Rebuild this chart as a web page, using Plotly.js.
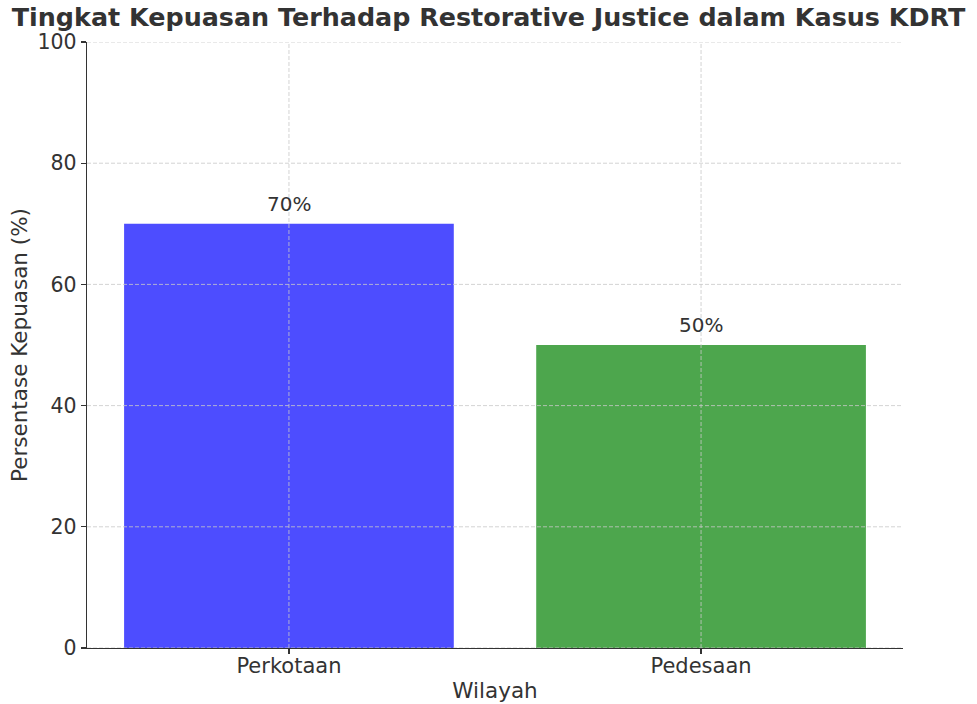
<!DOCTYPE html>
<html>
<head>
<meta charset="utf-8">
<script src="https://cdn.plot.ly/plotly-3.0.1.min.js"></script>
<style>html,body{margin:0;padding:0;background:#fff;}#chart{width:977px;height:704px;}</style>
</head>
<body>
<div id="chart"></div>
<script>
const categories = ["Perkotaan", "Pedesaan"];
const satisfaction = [70, 50];
const labels = ["70%", "50%"];
const barColors = ["#4d4dff", "#4da64d"];
const yTicks = [0, 20, 40, 60, 80, 100];

const gridColor = "rgba(200,200,200,0.8)";
const shapes = [];
yTicks.forEach(v => shapes.push({type:"line", xref:"paper", yref:"y", x0:0, x1:1, y0:v, y1:v,
  line:{color:gridColor, width:1, dash:"4px,2px"}, layer:"above"}));
categories.forEach(c => shapes.push({type:"line", xref:"x", yref:"paper", x0:c, x1:c, y0:0, y1:1,
  line:{color:gridColor, width:1, dash:"4px,2px"}, layer:"above"}));

const annotations = categories.map((c, i) => ({
  x: c, y: satisfaction[i], text: labels[i], showarrow: false,
  yanchor: "bottom", yshift: 6, font: {family: "DejaVu Sans", size: 20, color: "#333"}
}));

const trace = {
  type: "bar", x: categories, y: satisfaction,
  marker: {color: barColors, line: {width: 0}},
  width: 0.8, hoverinfo: "skip"
};

const layout = {
  width: 977, height: 704,
  margin: {l: 87, r: 74, t: 42, b: 56},
  paper_bgcolor: "#fff", plot_bgcolor: "#fff",
  font: {family: "DejaVu Sans", color: "#333", size: 20},
  title: {text: "<b>Tingkat Kepuasan Terhadap Restorative Justice dalam Kasus KDRT</b>",
    x: 0.5, xanchor: "center", y: 0.975, yanchor: "middle",
    font: {family: "DejaVu Sans", size: 25.4, color: "#333"}},
  bargap: 0.2,
  xaxis: {
    range: [-0.49, 1.49], type: "category",
    showgrid: false, showline: true, linecolor: "#333", linewidth: 1.3,
    ticks: "outside", ticklen: 5, tickcolor: "#333", tickwidth: 1.2,
    tickfont: {size: 21}, zeroline: false, ticklabelstandoff: -7,
    title: {text: "Wilayah", font: {size: 21.5}, standoff: 6}
  },
  yaxis: {
    range: [0, 100], tickvals: yTicks, showgrid: false,
    showline: true, linecolor: "#333", linewidth: 1.3,
    ticks: "outside", ticklen: 5, tickcolor: "#333", tickwidth: 1.2,
    tickfont: {size: 20.5}, zeroline: false,
    title: {text: "Persentase Kepuasan (%)", font: {size: 21.5}, standoff: 4}
  },
  shapes: shapes,
  annotations: annotations,
  showlegend: false
};

Plotly.newPlot("chart", [trace], layout, {displayModeBar: false, staticPlot: true});
</script>
</body>
</html>
